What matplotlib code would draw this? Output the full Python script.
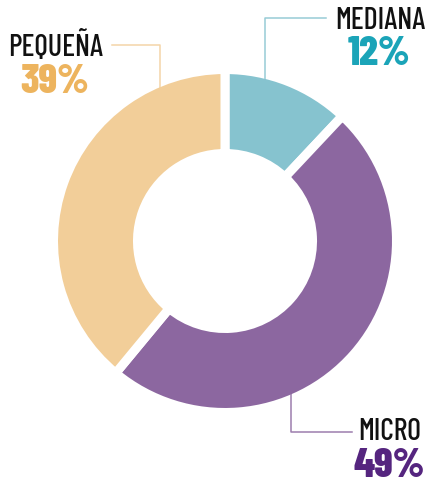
import matplotlib.pyplot as plt

# datos
categorias = ['MEDIANA', 'MICRO', 'PEQUEÑA']
porcentajes = [12, 49, 39]
colores = ['#86C3CF', '#8C67A0', '#F2CE99']
colores_pct = ['#1BA4B8', '#55257F', '#EDB45E']

W, H = 427, 486
fig = plt.figure(figsize=(W / 100, H / 100), dpi=100)
ax = fig.add_axes([0, 0, 1, 1])

def y(v):
    # coordenadas de imagen -> ejes
    return H - v

cx, cy, r = 225, y(241), 171.5
ax.pie(porcentajes, colors=colores, startangle=90, counterclock=False,
       center=(cx, cy), radius=r, frame=True,
       wedgeprops=dict(width=84, edgecolor='white', linewidth=6.5))
ax.set_xlim(0, W)
ax.set_ylim(0, H)
ax.set_aspect('equal')
ax.axis('off')

# líneas guía
guias = {
    'MEDIANA': [(326, 18), (265, 18), (265, 122)],
    'MICRO': [(291, 345), (291, 432), (352, 432)],
    'PEQUEÑA': [(112, 45), (160, 45), (160, 145)],
}
for cat, col in zip(categorias, colores):
    xs = [p[0] for p in guias[cat]]
    ys = [y(p[1]) for p in guias[cat]]
    ax.plot(xs, ys, color=col, lw=1.1, alpha=0.85, zorder=5)

# etiquetas
pos = {
    'MEDIANA': (380, 21, 379, 54),
    'MICRO': (390, 432, 389, 466),
    'PEQUEÑA': (56, 46, 55, 82),
}
fuente = ['Barlow Condensed', 'Fira Sans Extra Condensed', 'DejaVu Sans']
for cat, pct, col in zip(categorias, porcentajes, colores_pct):
    x1, y1, x2, y2 = pos[cat]
    ax.text(x1, y(y1), cat, ha='center', va='center', fontsize=21.5,
            family=fuente, fontweight=500, color='#111111')
    ax.text(x2, y(y2), f'{pct}%', ha='center', va='center', fontsize=30,
            family=fuente, fontweight=800, color=col)

fig.savefig('out.png', dpi=100)
